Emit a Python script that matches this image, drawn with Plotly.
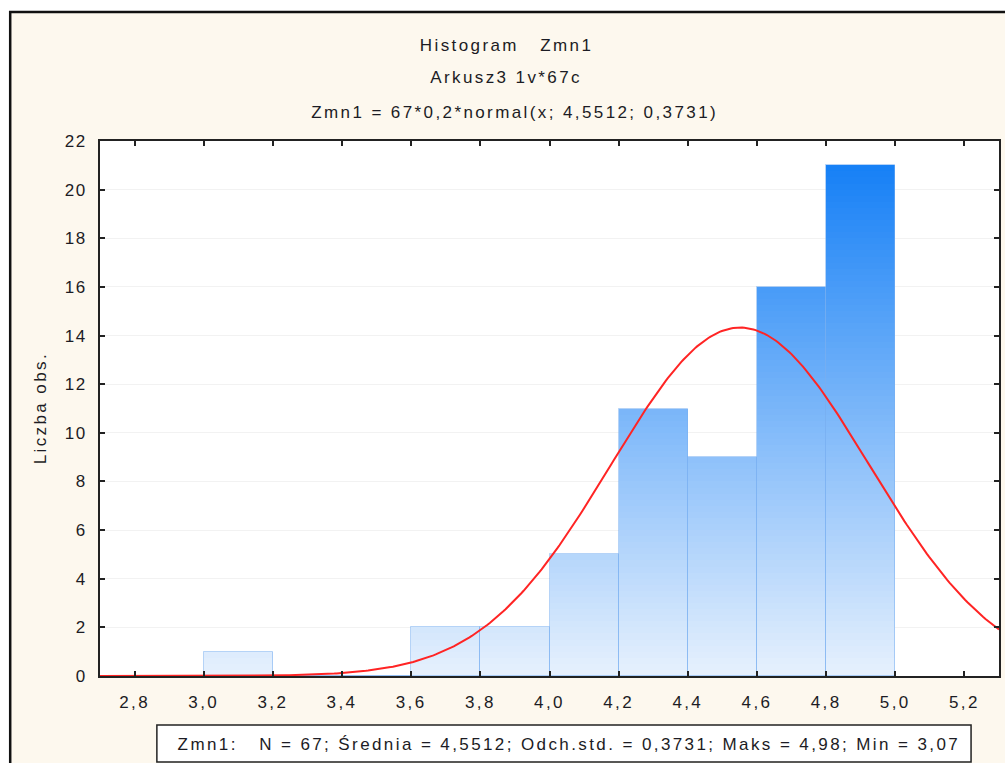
import numpy as np
import plotly.graph_objects as go

# ---- data ----
bin_left = [3.0, 3.2, 3.4, 3.6, 3.8, 4.0, 4.2, 4.4, 4.6, 4.8]
counts = [1, 0, 0, 2, 2, 5, 11, 9, 16, 21]
bin_width = 0.2
# fitted normal curve parameters (from the chart subtitle)
n_obs = 67
mean_val = 4.5512
std_val = 0.3731
max_val = 4.98
min_val = 3.07
x_ticks = [2.8, 3.0, 3.2, 3.4, 3.6, 3.8, 4.0, 4.2, 4.4, 4.6, 4.8, 5.0, 5.2]
y_ticks = list(range(0, 23, 2))

FONT = "Liberation Sans, Arial, sans-serif"
TXT = "#1c1c24"
FS = 17

# gradient colours (by height)
c_lo = np.array([231, 241, 253])
c_hi = np.array([22, 128, 246])
y_top = max(counts)

def grad(v):
    t = min(max(v / y_top, 0), 1)
    c = c_lo + (c_hi - c_lo) * t
    return "rgb(%d,%d,%d)" % tuple(c.round())

seg = 0.25
sx, sb, sy, sc = [], [], [], []
for left, cnt in zip(bin_left, counts):
    k = int(round(cnt / seg))
    for i in range(k):
        b = i * seg
        sx.append(left + bin_width / 2)
        sb.append(b)
        sy.append(seg)
        sc.append(grad(b + seg / 2))

fig = go.Figure()
fig.add_trace(go.Bar(x=sx, y=sy, base=sb, width=bin_width,
                     marker=dict(color=sc, line=dict(width=0)),
                     hoverinfo="skip", showlegend=False))
centers = [l + bin_width / 2 for l in bin_left]
fig.add_trace(go.Bar(x=centers, y=counts, width=bin_width,
                     marker=dict(color="rgba(0,0,0,0)",
                                 line=dict(color="rgba(120,175,240,0.55)", width=1)),
                     showlegend=False))

xc = np.linspace(2.7, 5.3, 400)
yc = n_obs * bin_width * np.exp(-0.5 * ((xc - mean_val) / std_val) ** 2) / (std_val * np.sqrt(2 * np.pi))
fig.add_trace(go.Scatter(x=xc, y=yc, mode="lines",
                         line=dict(color="#ff2424", width=2), showlegend=False))

W, H = 1005, 763
L, R, T, B = 100, 1001, 141, 676
pw, ph = R - L, B - T

def px(x):
    return (x - L) / pw

def py(y):
    return (B - y) / ph

shapes = [
    dict(type="rect", xref="paper", yref="paper", layer="below",
         x0=px(10), x1=px(1030), y0=py(800), y1=py(12),
         fillcolor="#fdf8ee", line=dict(color="#111", width=2.5)),
    dict(type="rect", xref="paper", yref="paper", layer="below",
         x0=0, x1=1, y0=0, y1=1, fillcolor="white", line=dict(width=0)),
    dict(type="rect", xref="paper", yref="paper", layer="above",
         x0=px(157), x1=px(973), y0=py(762), y1=py(725),
         fillcolor="white", line=dict(color="#222", width=1.5)),
]

nb = "\u00a0"
stats = ("Zmn1:" + nb * 3 + "N = %d; Średnia = %s; Odch.std. = %s; Maks = %s; Min = %s"
         % (n_obs, str(mean_val).replace(".", ","), str(std_val).replace(".", ","),
            str(max_val).replace(".", ","), str(min_val).replace(".", ",")))

annotations = [
    dict(text="Histogram" + nb * 3 + "Zmn1", x=px(507), y=py(45)),
    dict(text="Arkusz3 1v*67c", x=px(507), y=py(78)),
    dict(text="Zmn1 = 67*0,2*normal(x; 4,5512; 0,3731)", x=px(515), y=py(112)),
    dict(text="Liczba obs.", x=px(40), y=py(408), textangle=-90),
    dict(text=stats, x=px(570), y=py(744)),
]
for a in annotations:
    a.update(xref="paper", yref="paper", showarrow=False, xanchor="center", yanchor="middle")
    a.setdefault("font", dict(size=FS, color=TXT, family=FONT))

fig.update_layout(
    width=W, height=H,
    margin=dict(l=L, r=W - R, t=T, b=H - B, pad=0),
    paper_bgcolor="white", plot_bgcolor="white",
    barmode="overlay", bargap=0,
    separators=", ",
    font=dict(family=FONT, size=FS, color=TXT),
    shapes=shapes, annotations=annotations,
    showlegend=False,
)
fig.update_xaxes(range=[2.7, 5.3], tickvals=x_ticks, tickformat=".1f",
                 ticks="inside", ticklen=5, tickwidth=1.5, tickcolor="#222",
                 showline=True, linecolor="#222", linewidth=2, mirror="ticks",
                 showgrid=False, zeroline=False, ticklabelstandoff=10,
                 tickfont=dict(size=FS, color=TXT, family=FONT))
fig.update_yaxes(range=[0, 22], tickvals=y_ticks,
                 ticks="inside", ticklen=5, tickwidth=1.5, tickcolor="#222",
                 showline=True, linecolor="#222", linewidth=2, mirror="ticks",
                 showgrid=True, gridcolor="#f2f2f2", gridwidth=1, zeroline=False,
                 ticklabelstandoff=8,
                 tickfont=dict(size=FS, color=TXT, family=FONT))

# page without body margin / scrollbars; widen glyph spacing like the reference rendering
post = ("document.body.style.margin='0';document.body.style.overflow='hidden';"
        "var g=document.getElementById('{plot_id}');"
        "g.querySelectorAll('.xtick text, .annotation-text').forEach(function(t){t.style.letterSpacing='2.4px';});"
        "g.querySelectorAll('.ytick text').forEach(function(t){t.style.letterSpacing='1.5px';});")

fig.write_html("out.html", post_script=post, config={"displayModeBar": False})
